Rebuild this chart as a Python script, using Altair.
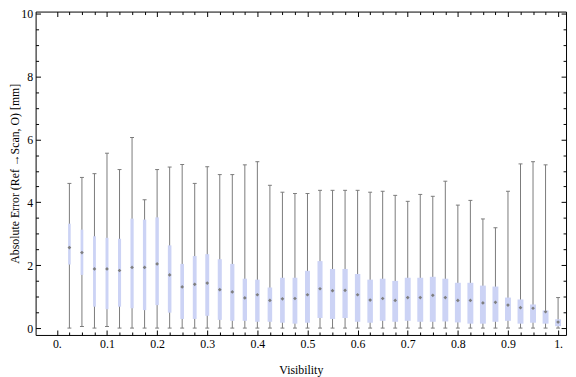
import altair as alt
import pandas as pd

# ---- data ----
visibility = [0.025, 0.05, 0.075, 0.1, 0.125, 0.15, 0.175, 0.2, 0.225, 0.25,
              0.275, 0.3, 0.325, 0.35, 0.375, 0.4, 0.425, 0.45, 0.475, 0.5,
              0.525, 0.55, 0.575, 0.6, 0.625, 0.65, 0.675, 0.7, 0.725, 0.75,
              0.775, 0.8, 0.825, 0.85, 0.875, 0.9, 0.925, 0.95, 0.975, 1.0]
whisker_low = [0.0, 0.05, 0.0, 0.05, 0.0, 0.0, 0.0, 0.0, 0.0, 0.0,
               0.0, 0.0, 0.0, 0.0, 0.0, 0.0, 0.0, 0.0, 0.0, 0.0,
               0.0, 0.0, 0.0, 0.0, 0.0, 0.0, 0.0, 0.0, 0.0, 0.0,
               0.0, 0.0, 0.0, 0.0, 0.0, 0.0, 0.0, 0.0, 0.0, 0.0]
quartile1 = [2.02, 1.69, 0.68, 0.60, 0.68, 0.63, 0.57, 0.73, 0.49, 0.29,
             0.29, 0.39, 0.26, 0.23, 0.23, 0.20, 0.20, 0.17, 0.14, 0.17,
             0.32, 0.29, 0.32, 0.20, 0.17, 0.23, 0.20, 0.23, 0.20, 0.20,
             0.21, 0.18, 0.14, 0.14, 0.20, 0.23, 0.14, 0.17, 0.14, 0.06]
median = [2.56, 2.40, 1.88, 1.88, 1.83, 1.93, 1.93, 2.04, 1.69, 1.31,
          1.39, 1.43, 1.22, 1.15, 0.96, 1.06, 0.88, 0.93, 0.94, 1.06,
          1.25, 1.19, 1.20, 1.06, 0.89, 0.94, 0.88, 0.97, 0.97, 1.04,
          0.97, 0.88, 0.88, 0.80, 0.82, 0.73, 0.65, 0.63, 0.52, 0.19]
quartile3 = [3.32, 3.13, 2.92, 2.87, 2.84, 3.48, 3.45, 3.52, 2.63, 2.04,
             2.29, 2.35, 2.19, 2.04, 1.57, 1.54, 1.29, 1.60, 1.60, 1.82,
             2.13, 1.88, 1.88, 1.72, 1.54, 1.57, 1.50, 1.60, 1.60, 1.63,
             1.57, 1.44, 1.44, 1.35, 1.32, 0.97, 0.91, 0.75, 0.56, 0.28]
whisker_high = [4.60, 4.79, 4.91, 5.56, 5.04, 6.06, 4.08, 5.04, 5.12, 5.20,
                4.60, 5.13, 4.88, 4.88, 5.19, 5.29, 4.54, 4.32, 4.28, 4.28,
                4.38, 4.38, 4.38, 4.38, 4.32, 4.35, 4.22, 4.03, 4.25, 4.19,
                4.67, 3.91, 4.06, 3.47, 3.19, 4.35, 5.22, 5.29, 5.19, 0.97]

x_label_values = [0, 0.1, 0.2, 0.3, 0.4, 0.5, 0.6, 0.7, 0.8, 0.9, 1]
x_tick_values = [0, 0.025, 0.05, 0.075, 0.1, 0.125, 0.15, 0.175, 0.2, 0.225,
                 0.25, 0.275, 0.3, 0.325, 0.35, 0.375, 0.4, 0.425, 0.45, 0.475,
                 0.5, 0.525, 0.55, 0.575, 0.6, 0.625, 0.65, 0.675, 0.7, 0.725,
                 0.75, 0.775, 0.8, 0.825, 0.85, 0.875, 0.9, 0.925, 0.95, 0.975, 1]
y_label_values = [0, 2, 4, 6, 8, 10]
y_tick_values = [0, 0.5, 1, 1.5, 2, 2.5, 3, 3.5, 4, 4.5, 5, 5.5, 6, 6.5,
                 7, 7.5, 8, 8.5, 9, 9.5, 10]

df = pd.DataFrame({
    "vis": visibility, "lo": whisker_low, "q1": quartile1,
    "med": median, "q3": quartile3, "hi": whisker_high,
})

W, H = 538, 328
FONT = "Liberation Serif"
WHISKER = "#7a7a7a"
BOX = "#ccd3f5"

xs = alt.Scale(domain=[-0.0326, 1.006], nice=False, zero=False)
ys = alt.Scale(domain=[-0.219, 10.063], nice=False, zero=False)

x_major = "abs(datum.value*10 - round(datum.value*10)) < 0.001"
y_major = "datum.value % 2 == 0"
xtick_size = {"condition": {"test": x_major, "value": 5}, "value": 3}
ytick_size = {"condition": {"test": y_major, "value": 5}, "value": 3}

# label axes (no ticks)
ax_x_labels = alt.Axis(
    orient="bottom", values=x_label_values,
    labelExpr="datum.value == 0 ? '0.' : (datum.value == 1 ? '1.' : format(datum.value, '.1f'))",
    ticks=False, tickSize=0, domain=False, grid=False,
    labelFont=FONT, labelFontSize=12, labelColor="black", labelPadding=4,
    title="Visibility", titleFont=FONT, titleFontSize=12, titleFontWeight="normal",
    titleColor="black", titleBaseline="alphabetic", titleY=39)
ax_y_labels = alt.Axis(
    orient="left", values=y_label_values, format="d",
    ticks=False, tickSize=0, domain=False, grid=False,
    labelFont=FONT, labelFontSize=12, labelColor="black", labelPadding=3,
    title="Absolute Error (Ref →Scan, O) [mm]", titleFont=FONT, titleFontSize=12,
    titleFontWeight="normal", titleColor="black", titleX=-14)

# inward ticks on all four edges
ax_x_bottom_ticks = alt.Axis(orient="top", offset=-H, values=x_tick_values,
                             labels=False, domain=False, grid=False, title=None,
                             ticks=True, tickSize=xtick_size, tickColor="black", tickWidth=1)
ax_x_top_ticks = alt.Axis(orient="bottom", offset=-H, values=x_tick_values,
                          labels=False, domain=False, grid=False, title=None,
                          ticks=True, tickSize=xtick_size, tickColor="black", tickWidth=1)
ax_y_left_ticks = alt.Axis(orient="right", offset=-W, values=y_tick_values,
                           labels=False, domain=False, grid=False, title=None,
                           ticks=True, tickSize=ytick_size, tickColor="black", tickWidth=1)
ax_y_right_ticks = alt.Axis(orient="left", offset=-W, values=y_tick_values,
                            labels=False, domain=False, grid=False, title=None,
                            ticks=True, tickSize=ytick_size, tickColor="black", tickWidth=1)

base = alt.Chart(df)

whiskers = base.mark_rule(color=WHISKER, strokeWidth=1).encode(
    x=alt.X("vis:Q", scale=xs, axis=ax_x_labels),
    y=alt.Y("lo:Q", scale=ys, axis=ax_y_labels),
    y2="hi:Q",
)

boxes = base.transform_calculate(
    w="min(6, 2.5 + 5*datum.vis)"
).mark_bar(color=BOX).encode(
    x=alt.X("vis:Q", scale=xs, axis=ax_x_bottom_ticks),
    y=alt.Y("q1:Q", scale=ys, axis=ax_y_left_ticks),
    y2="q3:Q",
    size=alt.Size("w:Q", scale=None, legend=None),
)

caps = base.transform_fold(["lo", "hi"], as_=["which", "val"]).mark_tick(
    orient="horizontal", size=4, thickness=1, color=WHISKER, opacity=1
).encode(
    x=alt.X("vis:Q", scale=xs, axis=ax_x_top_ticks),
    y=alt.Y("val:Q", scale=ys, axis=ax_y_right_ticks),
)

medians = base.mark_point(shape="diamond", filled=True, size=14,
                          color="#7f7f7f", opacity=1).encode(
    x=alt.X("vis:Q", scale=xs, axis=None),
    y=alt.Y("med:Q", scale=ys, axis=None),
)

chart = alt.layer(whiskers, boxes, caps, medians).resolve_axis(
    x="independent", y="independent"
).properties(
    width=W, height=H,
    autosize=alt.AutoSizeParams(type="none"),
    padding={"left": 28, "top": 1, "right": 2, "bottom": 40},
).configure_view(stroke="black", strokeWidth=1)

chart.save("out.html", embed_options={"renderer": "svg", "actions": False})
